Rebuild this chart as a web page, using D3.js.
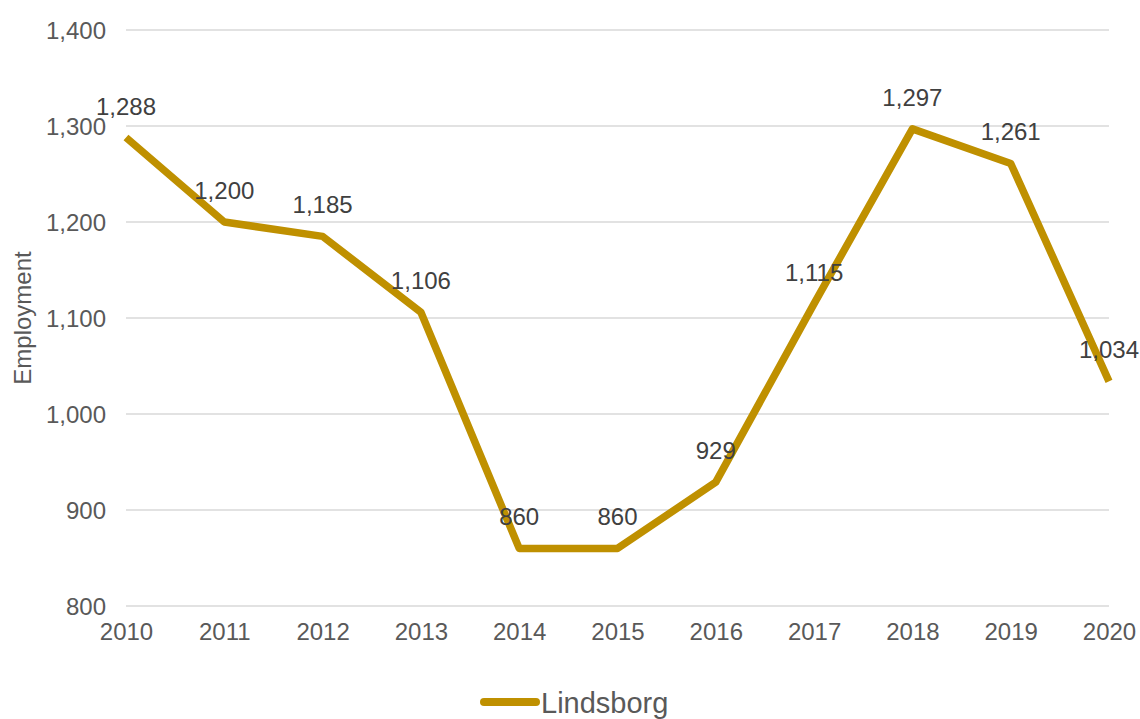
<!DOCTYPE html>
<html>
<head>
<meta charset="utf-8">
<script src="https://cdn.jsdelivr.net/npm/d3@7"></script>
<style>
  body { margin: 0; background: #fff; }
  svg { font-family: "Liberation Sans", Arial, sans-serif; }
</style>
</head>
<body>
<svg width="1140" height="719"></svg>
<script>
// data
const years = ['2010','2011','2012','2013','2014','2015','2016','2017','2018','2019','2020']
const employment = [1288, 1200, 1185, 1106, 860, 860, 929, 1115, 1297, 1261, 1034]
const yTicks = [800, 900, 1000, 1100, 1200, 1300, 1400]
const seriesName = 'Lindsborg'

const svg = d3.select('svg')
const margin = {top: 30, right: 31, bottom: 113, left: 126}
const width = 1140
const height = 719
const gold = '#bf9000'

const x = d3.scalePoint()
  .domain(years)
  .range([margin.left, width - margin.right])
const y = d3.scaleLinear()
  .domain([800, 1400])
  .range([height - margin.bottom, margin.top])

// gridlines
svg.append('g')
  .selectAll('line')
  .data(yTicks)
  .enter()
  .append('line')
  .attr('x1', margin.left)
  .attr('x2', width - margin.right)
  .attr('y1', d => y(d))
  .attr('y2', d => y(d))
  .attr('stroke', '#d9d9d9')
  .attr('stroke-width', 1.5)

// y axis labels
const yAxis = svg.append('g')
  .attr('transform', `translate(${margin.left - 20},0)`)
  .call(d3.axisLeft(y).tickValues(yTicks).tickSize(0).tickPadding(0).tickFormat(d3.format(',')))
yAxis.select('.domain').remove()
yAxis.selectAll('text')
  .attr('fill', '#595959')
  .attr('font-size', 24)
  .attr('dy', '0.35em')

// x axis labels
const xAxis = svg.append('g')
  .attr('transform', `translate(0,${height - margin.bottom + 17})`)
  .call(d3.axisBottom(x).tickSize(0).tickPadding(0))
xAxis.select('.domain').remove()
xAxis.selectAll('text')
  .attr('fill', '#595959')
  .attr('font-size', 24)
  .attr('dy', '0.71em')

svg.append('g')
  .selectAll('text')
  .data([0])
  .enter()
  .append('text')
  .attr('transform', `translate(31,${(margin.top + height - margin.bottom) / 2}) rotate(-90)`)
  .attr('text-anchor', 'middle')
  .attr('fill', '#595959')
  .attr('font-size', 24)
  .text('Employment')

// the line
svg.append('path')
  .datum(employment)
  .attr('fill', 'none')
  .attr('stroke', gold)
  .attr('stroke-width', 7.5)
  .attr('stroke-linejoin', 'round')
  .attr('d', d3.line()
    .x((d, i) => x(years[i]))
    .y(d => y(d)))

// data labels
svg.append('g')
  .selectAll('text')
  .data(employment)
  .enter()
  .append('text')
  .attr('x', (d, i) => x(years[i]))
  .attr('y', d => y(d) - 23)
  .attr('text-anchor', 'middle')
  .attr('fill', '#404040')
  .attr('font-size', 24)
  .text(d => d3.format(',')(d))

// legend
const legend = svg.append('g')
legend.append('line')
  .attr('x1', 484).attr('x2', 536)
  .attr('y1', 702).attr('y2', 702)
  .attr('stroke', gold)
  .attr('stroke-width', 8)
  .attr('stroke-linecap', 'round')
legend.append('text')
  .attr('x', 541)
  .attr('y', 713)
  .attr('fill', '#595959')
  .attr('font-size', 29)
  .text(seriesName)
</script>
</body>
</html>
